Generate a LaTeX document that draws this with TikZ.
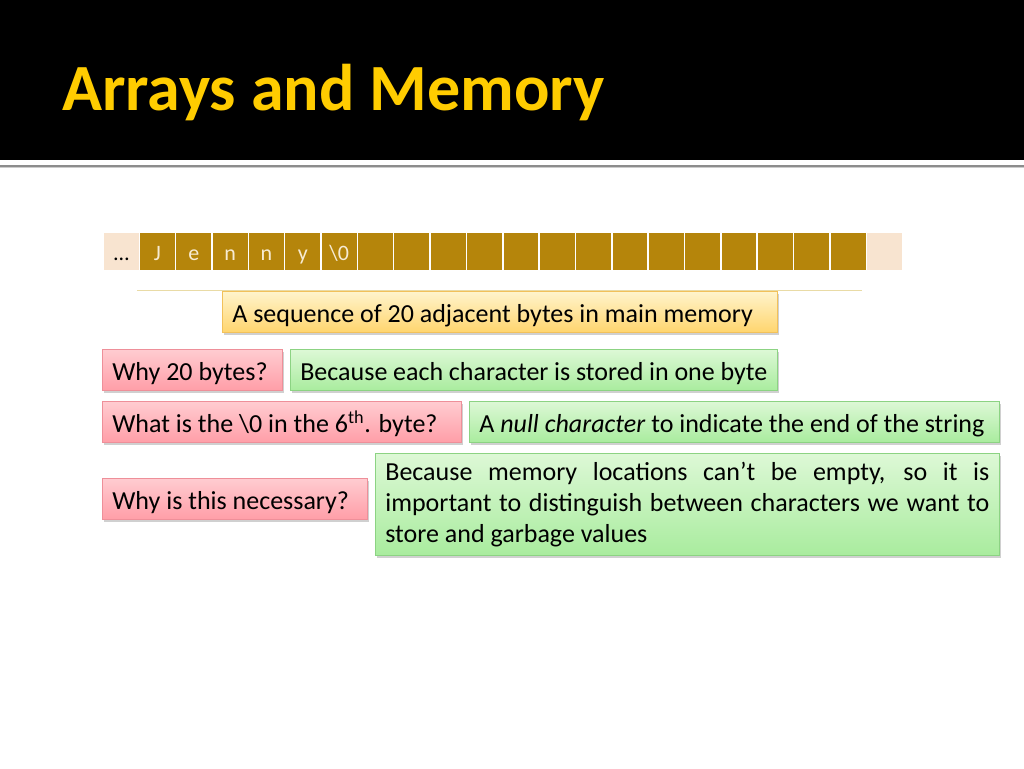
\documentclass[tikz,border=0pt]{standalone}
\usepackage{fontspec}
\setmainfont{Carlito}
\usetikzlibrary{shadows}
\definecolor{titleyellow}{HTML}{FFCC00}
\definecolor{cellbrown}{HTML}{B5850B}
\definecolor{cellpeach}{HTML}{F8E4D0}
\definecolor{celltext}{HTML}{F7EBD3}
\definecolor{pinktop}{HTML}{FFCCD1}
\definecolor{pinkbot}{HTML}{FF9EA8}
\definecolor{pinkline}{HTML}{EE8F99}
\definecolor{greentop}{HTML}{DDF8D6}
\definecolor{greenbot}{HTML}{A9EC9E}
\definecolor{greenline}{HTML}{8CD383}
\definecolor{yeltop}{HTML}{FFF4CC}
\definecolor{yelbot}{HTML}{FFD56E}
\definecolor{yelline}{HTML}{F2C15A}
\definecolor{ruleline}{HTML}{E9DBA6}
\newcommand{\lbox}[2]{\hbox to #1pt{#2\hfil}}
\tikzset{
  boxbase/.style={anchor=north west, draw, line width=0.7pt, inner xsep=10pt, inner ysep=0pt,
    minimum height=41pt, text height=22pt, text depth=0pt,
    font=\fontsize{26}{31}\selectfont,
    drop shadow={shadow xshift=2pt, shadow yshift=-3pt, opacity=0.3, fill=black!60}},
  pinkbox/.style={boxbase, draw=pinkline, top color=pinktop, bottom color=pinkbot},
  greenbox/.style={boxbase, draw=greenline, top color=greentop, bottom color=greenbot},
  yelbox/.style={boxbase, draw=yelline, top color=yeltop, bottom color=yelbot},
  cellbox/.style={anchor=north west, draw=white, line width=1.5pt, fill=cellbrown,
    minimum width=36.35pt, minimum height=39pt, inner sep=0pt, text height=19pt, text depth=0pt,
    text=celltext, font=\fontsize{22}{24}\selectfont},
}
\begin{document}
\begin{tikzpicture}[x=1pt,y=-1pt]
\useasboundingbox (0,0) rectangle (1024,768);
\fill[white] (0,0) rectangle (1024,768);
% title band
\fill[black] (0,0) rectangle (1024,160);
\fill[black!45] (0,164.5) rectangle (1024,166.5);
\fill[black!20] (0,166.5) rectangle (1024,167.5);
\node[anchor=base west, text=titleyellow, font=\fontsize{66}{72}\bfseries\selectfont, inner sep=0pt]
  (title) at (62,110) {Arrays and Memory};
% memory cells
\node[cellbox, fill=cellpeach, text=black] (c0) at (102.5,231) {\ldots};
\foreach \i/\t in {1/J,2/e,3/n,4/n,5/y,6/{\textbackslash 0},7/,8/,9/,10/,11/,12/,13/,14/,15/,16/,17/,18/,19/,20/}{
  \node[cellbox] (c\i) at ({138.5+(\i-1)*36.35},231) {\t};
}
\node[cellbox, fill=cellpeach] (c21) at ({138.5+20*36.35},231) {};
\coordinate (ra) at (137,290);
\coordinate (rb) at (862,290);
\draw[ruleline, line width=1pt] (ra) -- (rb);
% boxes
\node[yelbox] (seq) at (222,291) {\lbox{535}{A sequence of 20 adjacent bytes in main memory}};
\node[pinkbox] (q1) at (102,349) {\lbox{160}{Why 20 bytes?}};
\node[greenbox] (a1) at (290,349) {\lbox{467}{Because each character is stored in one byte}};
\node[pinkbox] (q2) at (102,401) {\lbox{339}{What is the \textbackslash 0 in the 6\textsuperscript{th}. byte?}};
\node[greenbox] (a2) at (469,401) {\lbox{510}{A \textit{null character} to indicate the end of the string}};
\node[pinkbox] (q3) at (102,478) {\lbox{245}{Why is this necessary?}};
\node[greenbox, minimum height=102pt, text height=, text depth=, inner ysep=7pt,
  text width=604pt, align=justify] (a3) at (375,453)
  {Because memory locations can’t be empty, so it is \mbox{important} to \mbox{distinguish} between characters we want to store and \mbox{garbage} values};
\end{tikzpicture}
\end{document}
